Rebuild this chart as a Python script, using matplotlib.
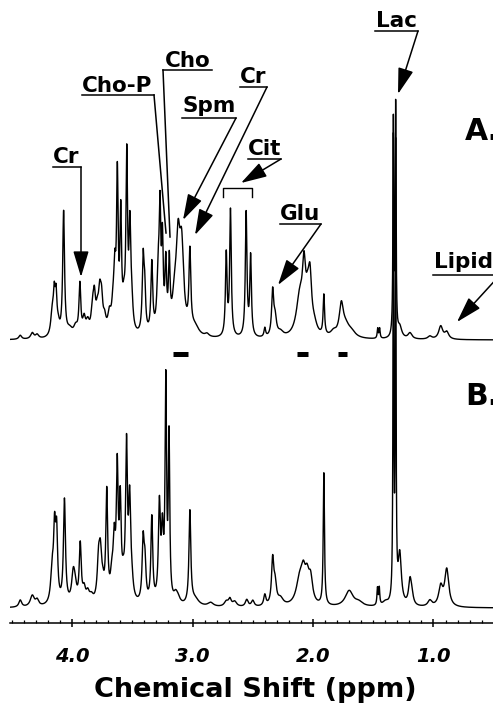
#!/usr/bin/env python3
"""1H NMR spectra A and B with metabolite assignments."""
import numpy as np
import matplotlib
matplotlib.use("Agg")
import matplotlib.pyplot as plt

# ── Peak tables: position (ppm), height, half-width (ppm) ──
A_PPM = [4.43, 4.33, 4.29, 4.165, 4.148, 4.133, 4.115, 4.070, 4.02, 3.97,
         3.935, 3.90, 3.87, 3.83, 3.815, 3.79, 3.77, 3.755, 3.73, 3.69,
         3.66, 3.645, 3.624, 3.596, 3.57, 3.546, 3.52, 3.505, 3.41, 3.397,
         3.338, 3.285, 3.27, 3.25, 3.222, 3.193, 3.15, 3.12, 3.09, 3.022,
         2.98, 2.88, 2.72, 2.685, 2.555, 2.518, 2.40, 2.335, 2.315, 2.27,
         2.11, 2.075, 2.045, 2.025, 1.99, 1.91, 1.83, 1.765, 1.73, 1.68,
         1.463, 1.447, 1.333, 1.314, 1.28, 1.195, 1.03, 0.94, 0.89]
A_HEIGHT = [4, 6, 4, 22, 36, 36, 9, 124, 7, 9,
            50, 16, 12, 22, 32, 18, 35, 28, 13, 18,
            22, 52, 150, 112, 24, 170, 98, 25, 72, 40,
            70, 55, 108, 84, 64, 66, 28, 84, 78, 78,
            9, 3, 82, 126, 124, 80, 9, 44, 18, 5,
            38, 56, 28, 48, 9, 40, 5, 30, 11, 5,
            10, 10, 214, 228, 11, 6, 3, 13, 7]
A_WIDTH = [0.014, 0.016, 0.016, 0.014, 0.009, 0.009, 0.014, 0.009, 0.028, 0.02,
           0.009, 0.014, 0.016, 0.014, 0.012, 0.014, 0.013, 0.012, 0.014, 0.016,
           0.014, 0.01, 0.008, 0.008, 0.014, 0.008, 0.009, 0.012, 0.009, 0.009,
           0.009, 0.012, 0.008, 0.008, 0.008, 0.008, 0.02, 0.02, 0.02, 0.009,
           0.04, 0.02, 0.008, 0.008, 0.008, 0.008, 0.008, 0.01, 0.014, 0.028,
           0.034, 0.016, 0.02, 0.016, 0.028, 0.007, 0.028, 0.02, 0.04, 0.04,
           0.005, 0.005, 0.004, 0.004, 0.02, 0.02, 0.02, 0.02, 0.02]

B_PPM = [4.43, 4.33, 4.29, 4.165, 4.145, 4.128, 4.063, 3.99, 3.975, 3.932,
         3.90, 3.87, 3.84, 3.78, 3.765, 3.745, 3.712, 3.67, 3.65, 3.625,
         3.60, 3.575, 3.548, 3.522, 3.505, 3.41, 3.395, 3.338, 3.275, 3.25,
         3.222, 3.195, 3.14, 3.12, 3.022, 2.98, 2.85, 2.72, 2.69, 2.65,
         2.55, 2.50, 2.40, 2.335, 2.315, 2.27, 2.11, 2.08, 2.05, 2.02,
         1.91, 1.70, 1.62, 1.465, 1.45, 1.40, 1.333, 1.314, 1.28, 1.195,
         1.18, 1.03, 0.94, 0.89]
B_HEIGHT = [7, 11, 6, 32, 66, 66, 104, 28, 13, 58,
            13, 10, 7, 37, 42, 13, 108, 22, 54, 126,
            92, 16, 150, 94, 17, 60, 36, 85, 95, 64,
            215, 162, 9, 5, 93, 7, 4, 5, 7, 5,
            7, 6, 11, 44, 20, 7, 26, 23, 23, 24,
            132, 16, 4, 17, 17, 4, 455, 445, 50, 24,
            9, 6, 19, 37]
B_WIDTH = [0.014, 0.02, 0.016, 0.014, 0.01, 0.01, 0.01, 0.016, 0.016, 0.01,
           0.014, 0.016, 0.02, 0.013, 0.013, 0.014, 0.009, 0.014, 0.011, 0.009,
           0.009, 0.014, 0.009, 0.01, 0.014, 0.01, 0.01, 0.009, 0.01, 0.01,
           0.007, 0.007, 0.02, 0.02, 0.009, 0.04, 0.028, 0.02, 0.014, 0.02,
           0.014, 0.014, 0.011, 0.011, 0.014, 0.028, 0.034, 0.02, 0.02, 0.02,
           0.006, 0.04, 0.04, 0.005, 0.005, 0.028, 0.0035, 0.0035, 0.016, 0.014,
           0.014, 0.02, 0.02, 0.02]

# suppressed regions marked under spectrum A (ppm start, ppm end)
BAR_START = [3.16, 2.13, 1.79]
BAR_END = [3.04, 2.04, 1.72]

TICKS = [4.0, 3.0, 2.0, 1.0]
TICK_LABELS = ["4.0", "3.0", "2.0", "1.0"]


def spectrum(ppm, pos, height, width):
    y = np.zeros_like(ppm)
    for p, h, w in zip(pos, height, width):
        y += h * w**2 / ((ppm - p) ** 2 + w**2)
    return y


W, H = 493, 708
fig = plt.figure(figsize=(W / 100, H / 100), dpi=100)

# ── spectra in ppm ────────────────────────────────────────────────────────────
ax = fig.add_axes([10 / W, 85 / H, 483 / W, 623 / H])
ppm = np.linspace(4.52, 0.5, 8041)
A_OFFSET, B_OFFSET = 283, 15
ax.plot(ppm, spectrum(ppm, B_PPM, B_HEIGHT, B_WIDTH) + B_OFFSET, color="black", lw=1.0)
ax.plot(ppm, spectrum(ppm, A_PPM, A_HEIGHT, A_WIDTH) + A_OFFSET, color="black", lw=1.0)
ax.hlines([A_OFFSET - 14] * len(BAR_START), BAR_START, BAR_END,
          color="black", lw=3.6, capstyle="butt")

ax.set_xlim(4.515, 0.506)
ax.set_ylim(0, 623)
for s in ["top", "left", "right"]:
    ax.spines[s].set_visible(False)
ax.spines["bottom"].set_linewidth(1.1)
ax.set_yticks([])
ax.set_xticks(TICKS)
ax.set_xticklabels(TICK_LABELS, fontsize=14, fontweight="bold", style="italic")
ax.set_xticks(np.arange(0.6, 4.51, 0.1), minor=True)
ax.tick_params(axis="x", which="major", direction="inout", length=6, width=1.1, pad=14)
ax.tick_params(axis="x", which="minor", direction="in", length=2.5, width=0.9)
ax.set_xlabel("Chemical Shift (ppm)", fontsize=19.5, fontweight="bold")
ax.xaxis.set_label_coords((255 - 10) / 483, (623 - 690) / 623)
ax.xaxis.label.set_va("center")

# ── annotations in pixel space ────────────────────────────────────────────────
ov = fig.add_axes([0, 0, 1, 1], zorder=5)
ov.set_xlim(0, W)
ov.set_ylim(H, 0)
ov.axis("off")
ov.patch.set_alpha(0)

LBL = dict(fontsize=15.5, fontweight="bold", ha="left", va="baseline")
HEAD = "-|>,head_length=1.6,head_width=0.48"


def label(text, x, y, under, corner, tip, arrow=True):
    ov.text(x, y, text, **LBL)
    ov.plot(under, [corner[1], corner[1]], color="black", lw=1.1)
    if arrow:
        ov.annotate("", xy=tip, xytext=corner,
                    arrowprops=dict(arrowstyle=HEAD, color="black", lw=1.1,
                                    mutation_scale=10, shrinkA=0, shrinkB=0))
    else:
        ov.plot([corner[0], tip[0]], [corner[1], tip[1]], color="black", lw=1.1)


label("Cr", 53, 163, [53, 81], (81, 167), (81, 277))
label("Cho-P", 82, 92, [82, 154], (154, 95), (166, 233), arrow=False)
label("Cho", 165, 67, [163, 212], (163, 70), (170, 237), arrow=False)
label("Spm", 182, 112, [182, 236], (236, 118), (183, 220))
label("Cr", 240, 83, [240, 267], (267, 87), (195, 235))
label("Cit", 248, 155, [248, 281], (281, 159), (241, 183))
label("Glu", 280, 220, [280, 321], (321, 224), (278, 285))
label("Lac", 376, 27, [375, 418], (418, 31), (398, 94))
label("Lipids", 434, 268, [433, 500], (500, 275), (457, 322))

# bracket over the citrate multiplet
ov.plot([223, 223, 252, 252], [197, 188, 188, 197], color="black", lw=1.0)

ov.text(465, 140, "A.", fontsize=21.5, fontweight="bold", ha="left", va="baseline")
ov.text(465, 405, "B.", fontsize=21.5, fontweight="bold", ha="left", va="baseline")

fig.savefig("out.png", dpi=100)
